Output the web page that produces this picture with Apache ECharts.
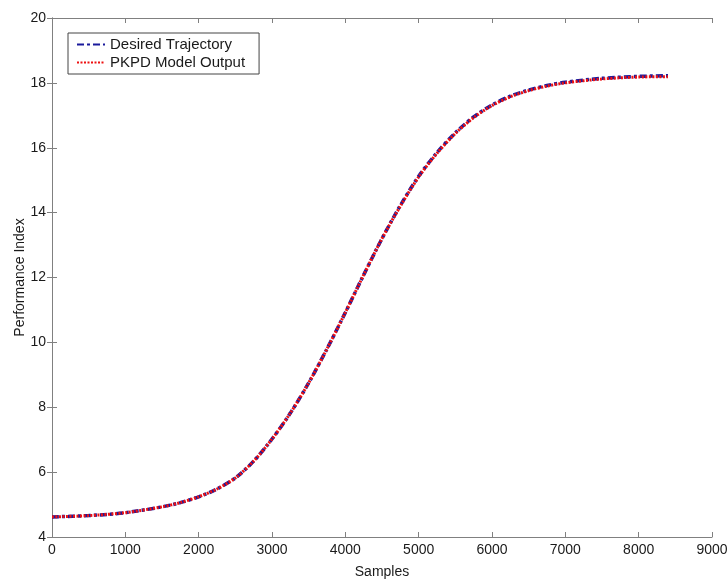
<!DOCTYPE html>
<html>
<head>
<meta charset="utf-8">
<script src="https://cdn.jsdelivr.net/npm/echarts@6/dist/echarts.min.js"></script>
<style>
  html, body { margin: 0; padding: 0; background: #fff; }
  #perf_chart { width: 728px; height: 579px; }
</style>
</head>
<body>
<div id="perf_chart"></div>
<script>
  // samples
  const samples = [0, 500, 1000, 1500, 1750, 2000, 2250, 2500, 2750, 3000, 3250, 3500, 3750, 4000,
    4250, 4500, 4750, 5000, 5250, 5500, 5750, 6000, 6250, 6500, 6750, 7000, 7500, 8000, 8400];
  const desired = [4.62, 4.66, 4.75, 4.93, 5.06, 5.24, 5.48, 5.82, 6.34, 7.02, 7.82, 8.75, 9.80, 10.92,
    12.08, 13.20, 14.22, 15.12, 15.85, 16.46, 16.95, 17.32, 17.59, 17.78, 17.92, 18.02, 18.14, 18.20, 18.22];
  const modelOut = [4.62, 4.66, 4.75, 4.93, 5.06, 5.24, 5.48, 5.82, 6.34, 7.02, 7.82, 8.75, 9.80, 10.92,
    12.08, 13.20, 14.20, 15.10, 15.83, 16.44, 16.93, 17.30, 17.57, 17.76, 17.90, 18.00, 18.12, 18.18, 18.19];
  const seriesNames = ['Desired Trajectory', 'PKPD Model Output'];

  const pairs = (ys) => samples.map((x, i) => [x, ys[i]]);

  const font = 'Liberation Sans, Arial, sans-serif';
  const frameColor = '#808080';
  const textColor = '#1a1a1a';

  const axisBase = {
    type: 'value',
    axisLine: { show: true, lineStyle: { color: frameColor, width: 1 } },
    axisTick: { show: true, inside: true, length: 5, lineStyle: { color: frameColor } },
    splitLine: { show: false }
  };
  const labelStyle = {
    fontFamily: font, fontSize: 14, color: textColor, margin: 6,
    showMinLabel: true, showMaxLabel: true,
    formatter: (v) => String(v)
  };

  const option = {
    animation: false,
    backgroundColor: '#fff',
    grid: { left: 52, right: 16, top: 18, bottom: 42, outerBoundsMode: 'none', containLabel: false },
    legend: {
      orient: 'vertical',
      left: 68,
      top: 33,
      padding: [4, 14, 4, 8],
      itemGap: 3,
      itemWidth: 28,
      itemHeight: 14,
      borderColor: '#444',
      borderWidth: 1,
      backgroundColor: '#fff',
      itemStyle: { opacity: 0 },
      textStyle: { fontFamily: font, fontSize: 15, color: textColor },
      data: seriesNames
    },
    xAxis: [
      Object.assign({}, axisBase, {
        min: 0, max: 9000, interval: 1000,
        position: 'bottom',
        name: 'Samples',
        nameLocation: 'middle',
        nameGap: 28,
        nameMoveOverlap: false,
        nameTextStyle: { fontFamily: font, fontSize: 14, color: textColor },
        axisLabel: labelStyle
      }),
      Object.assign({}, axisBase, {
        min: 0, max: 9000, interval: 1000,
        position: 'top',
        axisLabel: { show: false }
      })
    ],
    yAxis: [
      Object.assign({}, axisBase, {
        min: 4, max: 20, interval: 2,
        position: 'left',
        name: 'Performance Index',
        nameLocation: 'middle',
        nameGap: 25,
        nameMoveOverlap: false,
        nameTextStyle: { fontFamily: font, fontSize: 14, color: textColor },
        axisLabel: labelStyle
      }),
      Object.assign({}, axisBase, {
        min: 4, max: 20, interval: 2,
        position: 'right',
        axisLabel: { show: false }
      })
    ],
    series: [
      {
        name: seriesNames[0],
        type: 'line',
        data: pairs(desired),
        smooth: 0.3,
        symbol: 'none',
        itemStyle: { color: '#1a1a9c' },
        lineStyle: { color: '#1a1a9c', width: 3.5, type: [7, 3, 3, 3] }
      },
      {
        name: seriesNames[1],
        type: 'line',
        data: pairs(modelOut),
        smooth: 0.3,
        symbol: 'none',
        itemStyle: { color: '#ee1111' },
        lineStyle: { color: '#ee1111', width: 3, type: [2, 1.5] }
      }
    ]
  };

  const perfChart = echarts.init(document.getElementById('perf_chart'));
  perfChart.setOption(option);
  window.addEventListener('resize', function () {
    perfChart.resize();
  });
</script>
</body>
</html>
